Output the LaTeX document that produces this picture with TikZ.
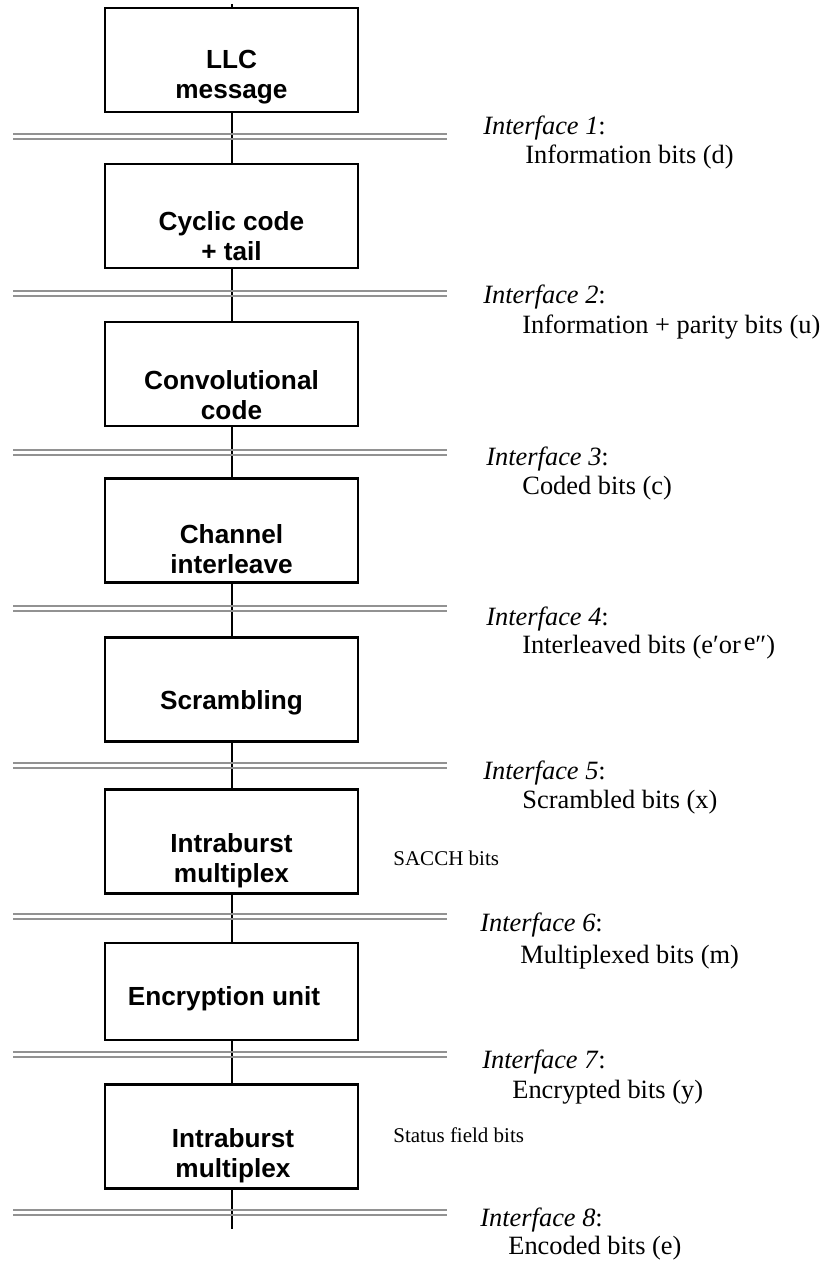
\documentclass[tikz,border=0pt]{standalone}
\usepackage[svgnames]{xcolor}
\usepackage{fontspec}
\setmainfont{Liberation Serif}
\newfontfamily\blockfont{Liberation Sans}
\usetikzlibrary{positioning}
\colorlet{ifaceLine}{Gray!55!DarkGray}
\colorlet{blockEdge}{black}

\begin{document}
\begin{tikzpicture}[
  x=0.5pt,
  y=-0.5pt,
  block/.style={
    draw=blockEdge,
    line width=1.1pt,
    minimum width=126.5pt,
    minimum height=52pt,
    inner sep=0pt,
  },
  block text/.style={
    font=\blockfont\bfseries\fontsize{13.1}{15}\selectfont,
    align=center,
    inner sep=0pt,
  },
  link/.style={
    draw=black,
    line width=1pt,
  },
  iface/.style={
    draw=ifaceLine,
    line width=1pt,
  },
  iface label/.style={
    font=\fontsize{13.2}{15}\selectfont,
    anchor=west,
    inner sep=0pt,
  },
  side note/.style={
    font=\fontsize{10.5}{12}\selectfont,
    anchor=west,
    inner sep=0pt,
  }
]
\useasboundingbox (0,0) rectangle (827,1261);
\foreach \n/\y/\h in {llc/60/52pt,cyc/216/52pt,conv/374/52pt,chan/530.5/52pt,
  scram/689.5/52pt,intraA/841.5/52pt,encr/991.5/48.5pt,intraB/1136.5/52pt} {
  \node[block,minimum height=\h] (\n) at (231.5,\y) {};
}
\node[block text] (llcText) at (231.5,77) {LLC\\message};
\node[block text] (cycText) at (231.5,236) {Cyclic code\\+ tail};
\node[block text] (convText) at (231.5,395) {Convolutional\\code};
\node[block text] (chanText) at (231.5,549) {Channel\\interleave};
\node[block text] (scramText) at (231.5,703) {Scrambling};
\node[block text] (intraAText) at (231.5,861) {Intraburst\\multiplex};
\node[block text] (encrText) at (224,999) {Encryption unit};
\node[block text] (intraBText) at (233,1156) {Intraburst\\multiplex};
\coordinate (src) at (231.5,4);
\coordinate (sink) at (231.5,1229);
\foreach \a/\b in {src/llc,llc/cyc,cyc/conv,conv/chan,chan/scram,
  scram/intraA,intraA/encr,encr/intraB,intraB/sink} {
  \draw[link] (\a) -- (\b);
}
\foreach \k/\ly/\tx/\ty/\dx/\dy/\desc in {
  1/136.5/483/128/525/157/{Information bits (d)},
  2/293.5/483/297/522/327/{Information + parity bits (u)},
  3/452/486/459/522/488/{Coded bits (c)},
  4/608.5/486/619/522/647/{Interleaved bits (e′or\kern1.5pt\raisebox{1.5pt}{e}″)},
  5/765/483/773/522/802/{Scrambled bits (x)},
  6/916.5/480/925/520/957/{Multiplexed bits (m)},
  7/1054.5/482/1062/512/1092/{Encrypted bits (y)},
  8/1212.5/480/1220/508/1248/{Encoded bits (e)}} {
  \draw[iface] (13,\ly-2.5) -- (447,\ly-2.5);
  \draw[iface] (13,\ly+2.5) -- (447,\ly+2.5);
  \node[iface label] (if\k) at (\tx,\ty) {\textit{Interface \k}:};
  \node[iface label] (desc\k) at (\dx,\dy) {\desc};
}
\node[side note] (sacch) at (393,858) {SACCH bits};
\node[side note] (status) at (393,1135) {Status field bits};
\end{tikzpicture}
\end{document}
